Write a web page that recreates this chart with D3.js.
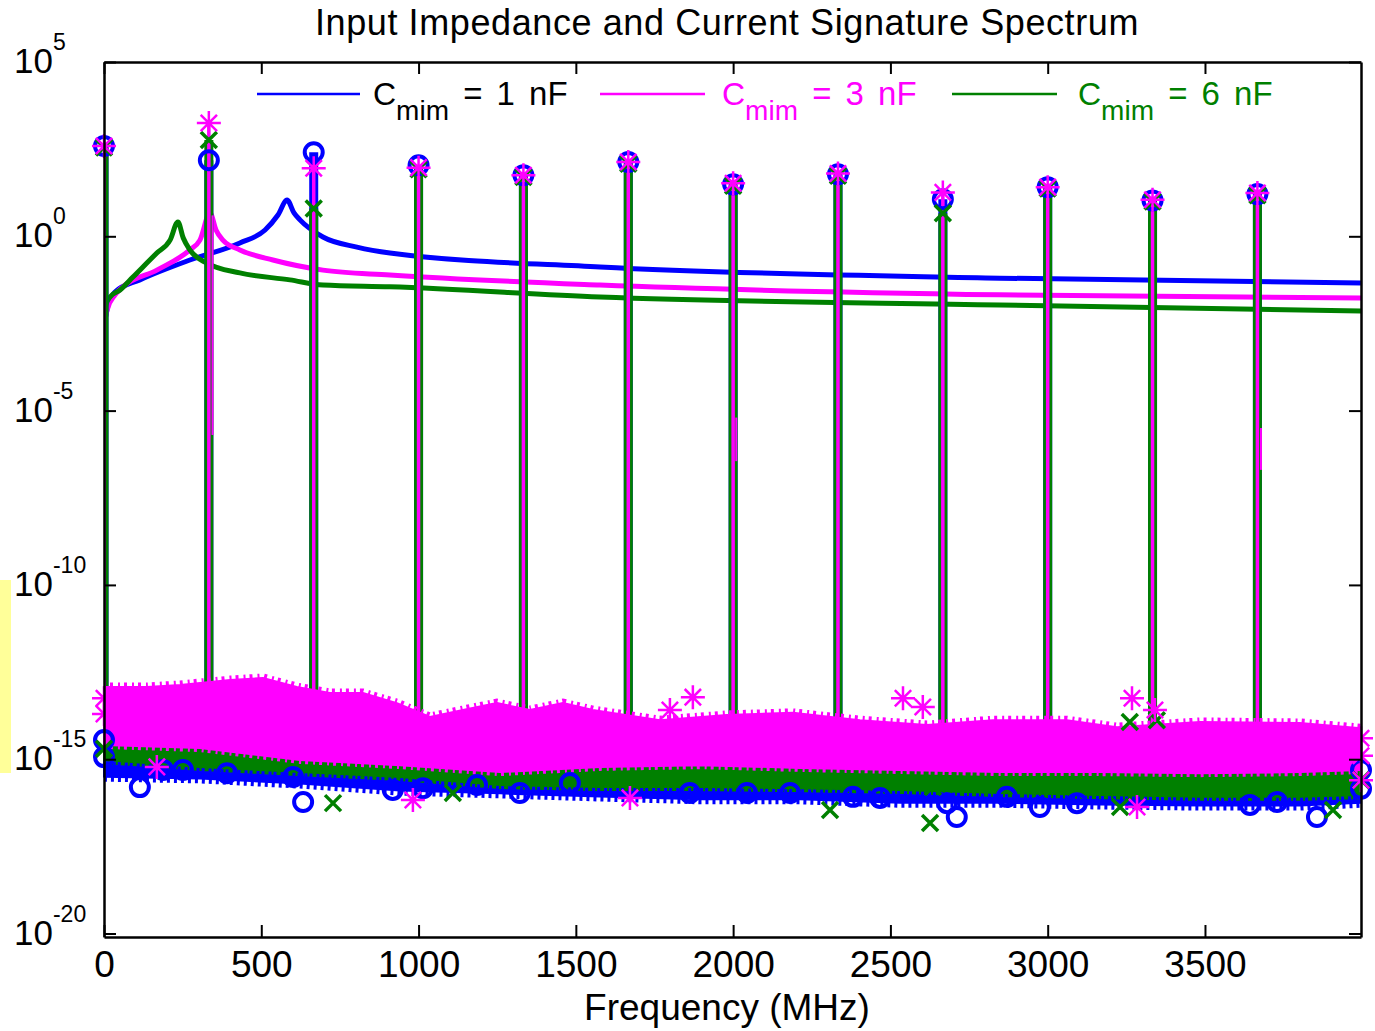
<!DOCTYPE html>
<html>
<head>
<meta charset="utf-8">
<script src="https://cdnjs.cloudflare.com/ajax/libs/d3/7.8.5/d3.min.js"></script>
<style>
  body { margin: 0; background: #fff; }
  svg { display: block; }
  text { font-family: "Liberation Sans", Arial, sans-serif; }
</style>
</head>
<body>
<svg id="chart" width="1375" height="1031"></svg>
<script>
// ---------------- DATA ----------------
// All magnitudes are given as log10 exponents (value = 10^exp).
const titleText = "Input Impedance and Current Signature Spectrum";
const xLabelText = "Frequency (MHz)";
const xDomain = [0, 3996];
const xTicks = [0, 500, 1000, 1500, 2000, 2500, 3000, 3500];
const yTickExps = [5, 0, -5, -10, -15, -20];
const yDomainExps = [-20.1, 5];

const seriesNames = ["1 nF", "3 nF", "6 nF"];
const seriesColors = ["#0000ff", "#ff00ff", "#008000"];

// Input impedance curves: [frequency MHz, log10 |Z|]
const blueImpedance = [[0,-2.54],[13,-1.97],[35,-1.60],[114,-1.25],[273,-0.68],[432,-0.19],[512,0.18],[553,0.61],[582,1.04],[604,0.67],[623,0.47],[696,-0.02],[804,-0.31],[909,-0.48],[1577,-0.88],[2848,-1.20],[3996,-1.34]];
const magentaImpedance = [[0,-2.54],[10,-2.11],[35,-1.68],[60,-1.45],[168,-0.97],[273,-0.39],[305,-0.11],[337,0.67],[356,0.18],[378,-0.11],[432,-0.39],[537,-0.68],[696,-0.97],[909,-1.11],[1577,-1.40],[2848,-1.68],[3996,-1.77]];
const greenImpedance = [[0,-2.54],[6,-1.97],[19,-1.74],[51,-1.54],[92,-1.17],[168,-0.48],[210,-0.11],[235,0.41],[252,-0.05],[273,-0.39],[327,-0.77],[432,-1.05],[591,-1.25],[696,-1.40],[909,-1.45],[1577,-1.74],[2848,-1.97],[3996,-2.14]];

// Current signature spectral lines (harmonics) and their peak levels
const harmonicFreqs = [0, 333.3, 666.7, 1000, 1333.3, 1666.7, 2000, 2333.3, 2666.7, 3000, 3333.3, 3666.7];
const bluePeaks    = [2.59, 2.18, 2.41, 2.04, 1.75, 2.13, 1.49, 1.78, 1.06, 1.41, 1.03, 1.21];
const magentaPeaks = [2.59, 3.25, 1.95, 1.97, 1.75, 2.13, 1.52, 1.80, 1.26, 1.41, 1.05, 1.24];
const greenPeaks   = [2.55, 2.76, 0.80, 1.92, 1.70, 2.08, 1.45, 1.74, 0.66, 1.37, 1.00, 1.18];
const stemBaseExp = -14.0;
// extra magenta side segments next to some lines: [freq, topExp, bottomExp]
const magentaSideLines = [[345, 0.60, -5.70], [2010, -5.2, -6.45], [3678, -5.5, -6.70]];

// Noise floor envelopes: [frequency MHz, log10 value]
const magentaNoiseTop = [[0,-12.93],[137,-12.93],[242,-12.87],[401,-12.73],[505,-12.67],[613,-12.93],[718,-13.10],[823,-13.10],[931,-13.39],[1036,-13.79],[1141,-13.59],[1249,-13.39],[1354,-13.59],[1459,-13.39],[1554,-13.59],[1767,-13.88],[1980,-13.73],[2190,-13.67],[2403,-13.88],[2616,-14.02],[2826,-13.88],[3061,-13.88],[3220,-14.08],[3484,-13.93],[3802,-13.96],[3996,-14.11]];
const magentaNoiseBottom = [[0,-14.59],[305,-14.68],[623,-15.02],[941,-15.17],[1259,-15.37],[1577,-15.22],[1895,-15.17],[2212,-15.25],[2530,-15.31],[2848,-15.37],[3166,-15.37],[3484,-15.40],[3802,-15.37],[3996,-15.31]];
const greenNoiseTop = [[0,-14.0],[305,-14.1],[623,-14.2],[941,-14.3],[1259,-14.5],[1577,-14.5],[1895,-14.6],[2212,-14.6],[2530,-14.7],[2848,-14.7],[3166,-14.7],[3484,-14.8],[3802,-14.8],[3996,-14.8]];
const greenNoiseBottom = [[0,-15.02],[305,-15.22],[623,-15.37],[941,-15.51],[1259,-15.74],[1577,-15.80],[1895,-15.80],[2212,-15.83],[2530,-15.88],[2848,-15.97],[3166,-16.03],[3484,-16.08],[3802,-16.08],[3996,-16.03]];
const blueNoiseTop = [[0,-14.4],[305,-14.5],[623,-14.6],[941,-14.7],[1259,-14.9],[1577,-14.9],[1895,-15.0],[2212,-15.0],[2530,-15.1],[2848,-15.1],[3166,-15.1],[3484,-15.2],[3802,-15.2],[3996,-15.2]];
const blueNoiseBottom = [[0,-15.50],[305,-15.55],[623,-15.70],[941,-15.90],[1259,-15.98],[1577,-16.07],[1895,-16.15],[2212,-16.15],[2530,-16.25],[2848,-16.25],[3166,-16.30],[3484,-16.33],[3802,-16.33],[3996,-16.25]];

// Individual noise-floor markers that stand out of the bands
const blueNoiseMarkers = [[0,-14.45],[0,-14.94],[114,-15.80],[188,-15.31],[251,-15.31],[391,-15.40],[601,-15.51],[633,-16.23],[918,-15.88],[1014,-15.83],[1186,-15.74],[1322,-15.97],[1481,-15.68],[1862,-15.97],[2044,-15.97],[2181,-15.97],[2381,-16.08],[2467,-16.11],[2680,-16.26],[2711,-16.66],[2870,-16.08],[2975,-16.37],[3093,-16.26],[3643,-16.31],[3729,-16.23],[3856,-16.66],[3996,-15.31],[3996,-15.85]];
const greenNoiseMarkers = [[0,-14.70],[728,-16.26],[1109,-15.97],[2308,-16.46],[2626,-16.83],[2635,-15.80],[3230,-16.37],[3907,-16.46],[3261,-13.93],[3347,-13.88],[3996,-15.60]];
const magentaNoiseMarkers = [[0,-13.25],[0,-13.70],[168,-15.22],[982,-16.17],[1672,-16.11],[1799,-13.59],[1872,-13.22],[2540,-13.25],[2603,-13.50],[3268,-13.25],[3341,-13.59],[3284,-16.37],[3996,-14.40],[3996,-14.90],[3996,-15.60]];

// ---------------- CHART ----------------
const svg = d3.select("#chart");
const P = e => Math.pow(10, e);
const x = d3.scaleLinear().domain(xDomain).range([104, 1361]);
const y = d3.scaleLog().domain(yDomainExps.map(P)).range([937, 62]);
const [BLUE, MAGENTA, GREEN] = seriesColors;

// pale yellow strip at the far left of the reference image
svg.append("rect").attr("x", 0).attr("y", 580).attr("width", 11).attr("height", 193).attr("fill", "#ffff99");

svg.append("defs").append("clipPath").attr("id", "plotClip")
  .append("rect").attr("x", 104).attr("y", 62).attr("width", 1257).attr("height", 875);

const plot = svg.append("g").attr("clip-path", "url(#plotClip)");
const line = d3.line().x(d => x(d[0])).y(d => y(P(d[1]))).curve(d3.curveMonotoneX);

// impedance curves
[[blueImpedance, BLUE], [magentaImpedance, MAGENTA], [greenImpedance, GREEN]].forEach(([data, c]) => {
  plot.append("path").attr("d", line(data)).attr("fill", "none")
    .attr("stroke", c).attr("stroke-width", 5).attr("stroke-linejoin", "round");
});

// spectral lines (stems)
function stems(peaks, color, width) {
  plot.append("g").selectAll("line").data(harmonicFreqs.map((f, i) => [f, peaks[i]])).join("line")
    .attr("x1", d => x(d[0])).attr("x2", d => x(d[0]))
    .attr("y1", d => y(P(d[1]))).attr("y2", y(P(stemBaseExp)))
    .attr("stroke", color).attr("stroke-width", width);
}
stems(bluePeaks, BLUE, 9);
stems(greenPeaks, GREEN, 9);
stems(magentaPeaks, MAGENTA, 3.5);

plot.append("g").selectAll("line").data(magentaSideLines).join("line")
  .attr("x1", d => x(d[0])).attr("x2", d => x(d[0]))
  .attr("y1", d => y(P(d[1]))).attr("y2", d => y(P(d[2])))
  .attr("stroke", MAGENTA).attr("stroke-width", 2);

// noise floor bands, with a fuzzy fringe along their edges (dense markers in the original)
const bandLine = d3.line().x(d => x(d[0])).y(d => y(P(d[1])));
function band(top, bottom, color) {
  const pts = top.concat(bottom.slice().reverse());
  svg.append("path").attr("d", bandLine(pts) + "Z").attr("fill", color)
    .attr("stroke", color).attr("stroke-width", 2).attr("stroke-linejoin", "round");
}
function fringe(pts, color, width, dash) {
  svg.append("path").attr("d", bandLine(pts)).attr("fill", "none")
    .attr("stroke", color).attr("stroke-width", width).attr("stroke-dasharray", dash);
}
band(blueNoiseTop, blueNoiseBottom, BLUE);
fringe(blueNoiseBottom, BLUE, 10, "3 4");
band(greenNoiseTop, greenNoiseBottom, GREEN);
fringe(greenNoiseBottom, GREEN, 8, "2 3 4 3");
band(magentaNoiseTop, magentaNoiseBottom, MAGENTA);
fringe(magentaNoiseBottom, MAGENTA, 8, "2 4 3 5");
fringe(magentaNoiseTop, MAGENTA, 9, "2 4 3 5");

// marker helpers
function starPath(cx, cy, r) {
  const d = r * 0.68;
  return `M${cx - r},${cy}H${cx + r}M${cx},${cy - r}V${cy + r}M${cx - d},${cy - d}L${cx + d},${cy + d}M${cx - d},${cy + d}L${cx + d},${cy - d}`;
}
function crossPath(cx, cy, r) {
  return `M${cx - r},${cy - r}L${cx + r},${cy + r}M${cx - r},${cy + r}L${cx + r},${cy - r}`;
}
function circles(data, color) {
  svg.append("g").selectAll("circle").data(data).join("circle")
    .attr("cx", d => x(d[0])).attr("cy", d => y(P(d[1]))).attr("r", 9)
    .attr("fill", "none").attr("stroke", color).attr("stroke-width", 4);
}
function crosses(data, color) {
  svg.append("g").selectAll("path").data(data).join("path")
    .attr("d", d => crossPath(x(d[0]), y(P(d[1])), 8))
    .attr("fill", "none").attr("stroke", color).attr("stroke-width", 3.5);
}
function stars(data, color) {
  svg.append("g").selectAll("path").data(data).join("path")
    .attr("d", d => starPath(x(d[0]), y(P(d[1])), 12))
    .attr("fill", "none").attr("stroke", color).attr("stroke-width", 2.5);
}

// noise outlier markers
circles(blueNoiseMarkers, BLUE);
crosses(greenNoiseMarkers, GREEN);
stars(magentaNoiseMarkers, MAGENTA);

// peak markers
circles(harmonicFreqs.map((f, i) => [f, bluePeaks[i]]), BLUE);
crosses(harmonicFreqs.map((f, i) => [f, greenPeaks[i]]), GREEN);
stars(harmonicFreqs.map((f, i) => [f, magentaPeaks[i]]), MAGENTA);

// ---------------- AXES ----------------
const axisStyle = g => {
  g.select(".domain").attr("stroke", "#000").attr("stroke-width", 2.5);
  g.selectAll(".tick line").attr("stroke", "#000").attr("stroke-width", 2);
};
svg.append("g").attr("transform", "translate(0,937)")
  .call(d3.axisBottom(x).tickValues(xTicks).tickSizeInner(-12).tickSizeOuter(0).tickPadding(14).tickFormat(d3.format("d")))
  .call(axisStyle)
  .call(g => g.selectAll(".tick text").attr("font-size", 37).attr("fill", "#000")
    .attr("font-family", '"Liberation Sans", Arial, sans-serif'));
svg.append("g").attr("transform", "translate(0,62)")
  .call(d3.axisTop(x).tickValues(xTicks).tickSizeInner(-12).tickSizeOuter(0).tickFormat(""))
  .call(axisStyle);
const yTickVals = yTickExps.map(P);
svg.append("g").attr("transform", "translate(104,0)")
  .call(d3.axisLeft(y).tickValues(yTickVals).tickSizeInner(-12).tickSizeOuter(0).tickFormat(""))
  .call(axisStyle);
svg.append("g").attr("transform", "translate(1361,0)")
  .call(d3.axisRight(y).tickValues(yTickVals).tickSizeInner(-12).tickSizeOuter(0).tickFormat(""))
  .call(axisStyle);

// y tick labels with superscripts
yTickExps.forEach(e => {
  const t = svg.append("text").attr("x", 14).attr("y", y(P(e)) + 11).attr("fill", "#000");
  t.append("tspan").attr("font-size", 35).text("10");
  t.append("tspan").attr("font-size", 23).attr("dy", -23).text(String(e));
});

// title & x label
svg.append("text").attr("x", 727).attr("y", 35).attr("text-anchor", "middle")
  .attr("font-size", 36).attr("letter-spacing", 0.6).attr("fill", "#000").text(titleText);
svg.append("text").attr("x", 727).attr("y", 1020).attr("text-anchor", "middle")
  .attr("font-size", 37).attr("fill", "#000").text(xLabelText);

// legend
const legendItems = [
  { x1: 257, x2: 360, tx: 373, color: BLUE, textColor: "#000", label: seriesNames[0] },
  { x1: 600, x2: 705, tx: 722, color: MAGENTA, textColor: MAGENTA, label: seriesNames[1] },
  { x1: 952, x2: 1057, tx: 1078, color: GREEN, textColor: GREEN, label: seriesNames[2] }
];
legendItems.forEach(it => {
  svg.append("line").attr("x1", it.x1).attr("x2", it.x2).attr("y1", 94).attr("y2", 94)
    .attr("stroke", it.color).attr("stroke-width", 2.5);
  const t = svg.append("text").attr("x", it.tx).attr("y", 105).attr("fill", it.textColor);
  t.append("tspan").attr("font-size", 32).text("C");
  t.append("tspan").attr("font-size", 28).attr("dy", 15).text("mim");
  t.append("tspan").attr("font-size", 33).attr("dy", -15).attr("word-spacing", 5).text(" = " + it.label);
});
</script>
</body>
</html>
